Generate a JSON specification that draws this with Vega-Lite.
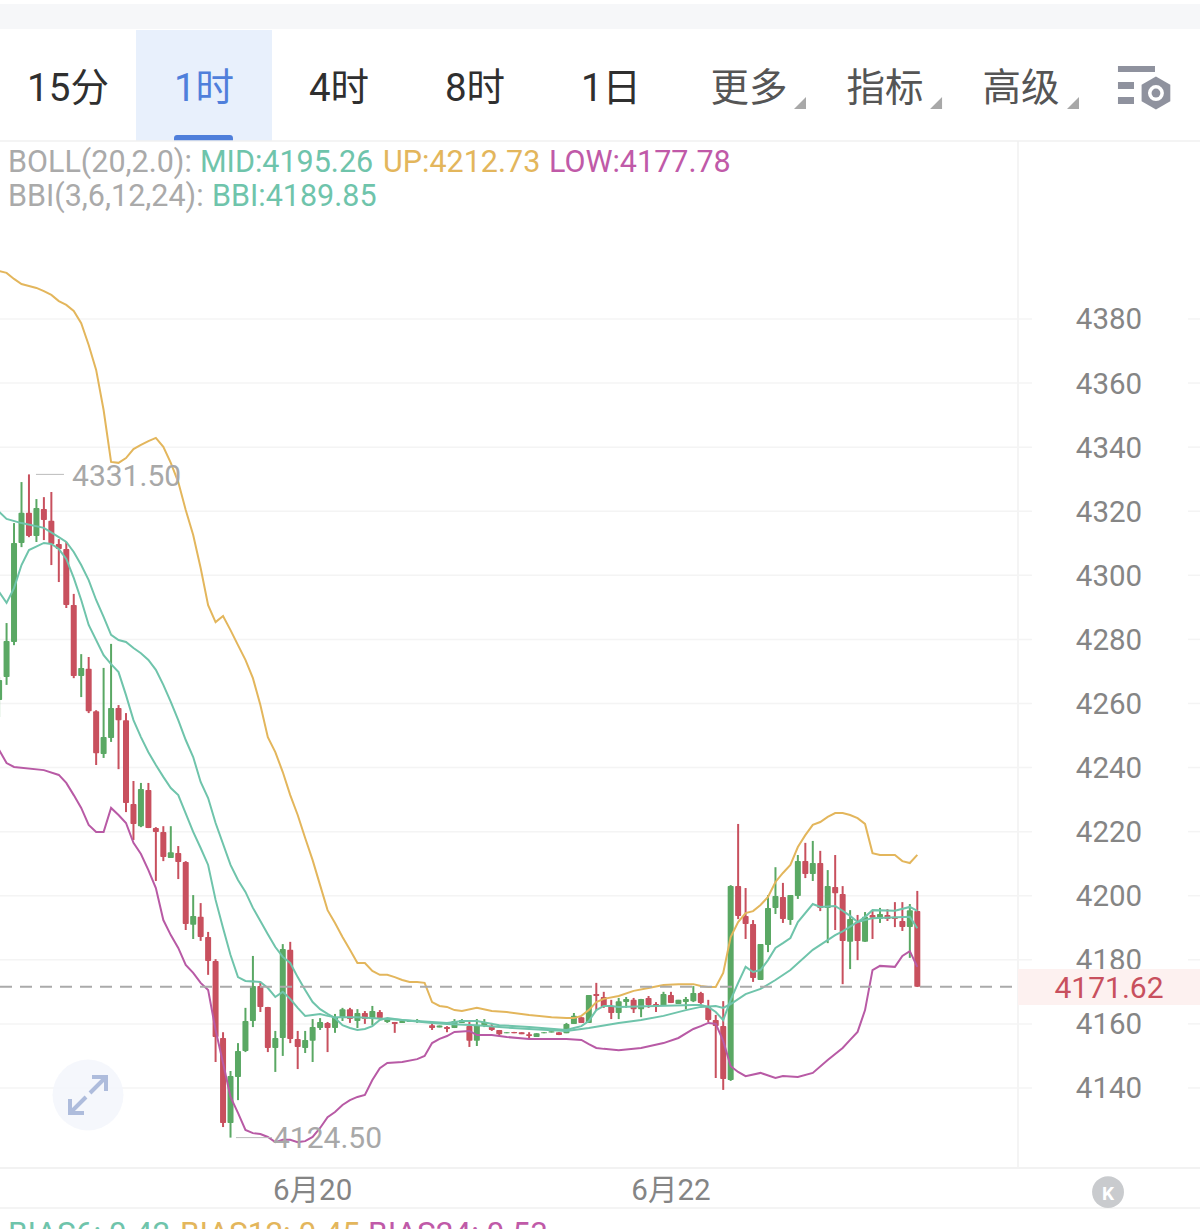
{"$schema":"https://vega.github.io/schema/vega-lite/v6.json","width":1200,"height":1229,"padding":0,"autosize":{"type":"none"},"background":"#ffffff","config":{"view":{"stroke":null},"axis":{"disable":true},"legend":{"disable":true},"text":{"font":"Roboto, Noto Sans CJK SC","dy":1.5,"fontWeight":400}},
"resolve":{"scale":{"color":"independent"}},
"data":{"values":[{}]},
"datasets":{
"levels":[{"v":4140},{"v":4160},{"v":4180},{"v":4200},{"v":4220},{"v":4240},{"v":4260},{"v":4280},{"v":4300},{"v":4320},{"v":4340},{"v":4360},{"v":4380}],
"tabs":[{"t":"15分","i":9.23,"k":"a"},{"t":"1时","i":27.45,"k":"b"},{"t":"4时","i":45.53,"k":"a"},{"t":"8时","i":63.75,"k":"a"},{"t":"1日","i":81.97,"k":"a"},{"t":"更多","i":100.45,"k":"c"},{"t":"指标","i":118.67,"k":"c"},{"t":"高级","i":136.89,"k":"c"}],
"menus":[{"i":107.29},{"i":125.51},{"i":143.86}],
"dates":[{"t":"6月20","i":42},{"t":"6月22","i":90}],
"candles":[
{"i":0,"o":4261.1,"h":4268.3,"l":4255.8,"c":4267.3},{"i":1,"o":4268.3,"h":4285.1,"l":4265.8,"c":4279.5},{"i":2,"o":4279.2,"h":4316.3,"l":4278.2,"c":4310.1},{"i":3,"o":4310.1,"h":4329.1,"l":4308.8,"c":4319.5},{"i":4,"o":4319.5,"h":4331.5,"l":4311.9,"c":4312.3},{"i":5,"o":4312.3,"h":4323.8,"l":4310.4,"c":4321.0},{"i":6,"o":4320.7,"h":4324.4,"l":4311.0,"c":4317.3},{"i":7,"o":4317.0,"h":4326.0,"l":4303.2,"c":4309.8},{"i":8,"o":4309.8,"h":4311.3,"l":4297.9,"c":4308.2},{"i":9,"o":4308.2,"h":4310.4,"l":4289.8,"c":4290.7},
{"i":10,"o":4290.7,"h":4294.2,"l":4267.9,"c":4268.6},{"i":11,"o":4268.6,"h":4275.4,"l":4262.0,"c":4271.1},{"i":12,"o":4270.8,"h":4274.5,"l":4257.0,"c":4257.6},{"i":13,"o":4257.6,"h":4257.9,"l":4240.8,"c":4244.5},{"i":14,"o":4244.2,"h":4271.1,"l":4243.0,"c":4249.5},{"i":15,"o":4249.2,"h":4278.6,"l":4248.0,"c":4258.6},{"i":16,"o":4258.6,"h":4259.5,"l":4239.5,"c":4254.8},{"i":17,"o":4254.8,"h":4257.0,"l":4226.1,"c":4228.9},{"i":18,"o":4228.6,"h":4235.8,"l":4217.4,"c":4222.4},{"i":19,"o":4221.7,"h":4235.2,"l":4221.4,"c":4233.3},
{"i":20,"o":4233.0,"h":4235.2,"l":4221.1,"c":4221.1},{"i":21,"o":4221.1,"h":4221.4,"l":4204.6,"c":4219.9},{"i":22,"o":4219.9,"h":4221.7,"l":4210.8,"c":4212.1},{"i":23,"o":4211.8,"h":4221.7,"l":4211.8,"c":4213.6},{"i":24,"o":4213.3,"h":4215.5,"l":4205.2,"c":4210.5},{"i":25,"o":4210.5,"h":4210.8,"l":4189.3,"c":4191.2},{"i":26,"o":4190.9,"h":4200.2,"l":4186.5,"c":4193.7},{"i":27,"o":4193.4,"h":4197.7,"l":4185.9,"c":4187.1},{"i":28,"o":4187.1,"h":4188.7,"l":4175.3,"c":4179.6},{"i":29,"o":4179.6,"h":4180.2,"l":4148.1,"c":4155.9},
{"i":30,"o":4155.6,"h":4157.4,"l":4127.8,"c":4129.1},{"i":31,"o":4129.1,"h":4145.3,"l":4124.5,"c":4143.7},{"i":32,"o":4143.4,"h":4154.0,"l":4136.2,"c":4151.5},{"i":33,"o":4151.5,"h":4165.0,"l":4151.2,"c":4160.9},{"i":34,"o":4160.9,"h":4181.2,"l":4159.0,"c":4171.8},{"i":35,"o":4171.8,"h":4173.1,"l":4163.7,"c":4165.3},{"i":36,"o":4165.3,"h":4165.3,"l":4151.2,"c":4152.5},{"i":37,"o":4152.5,"h":4157.8,"l":4145.0,"c":4155.6},{"i":38,"o":4155.6,"h":4184.9,"l":4150.0,"c":4183.4},{"i":39,"o":4183.1,"h":4185.6,"l":4154.0,"c":4155.3},
{"i":40,"o":4155.3,"h":4157.8,"l":4145.9,"c":4152.8},{"i":41,"o":4152.5,"h":4157.8,"l":4150.9,"c":4155.0},{"i":42,"o":4154.7,"h":4161.5,"l":4148.1,"c":4159.0},{"i":43,"o":4158.7,"h":4161.8,"l":4158.1,"c":4160.6},{"i":44,"o":4160.3,"h":4160.6,"l":4151.2,"c":4158.7},{"i":45,"o":4158.7,"h":4163.1,"l":4157.2,"c":4162.1},{"i":46,"o":4162.1,"h":4165.0,"l":4160.9,"c":4164.6},{"i":47,"o":4164.6,"h":4165.0,"l":4160.3,"c":4161.5},{"i":48,"o":4160.9,"h":4164.6,"l":4158.7,"c":4163.4},{"i":49,"o":4163.4,"h":4164.0,"l":4160.0,"c":4161.5},
{"i":50,"o":4161.5,"h":4165.6,"l":4159.6,"c":4164.0},{"i":51,"o":4163.7,"h":4164.3,"l":4161.2,"c":4161.8},{"i":52,"o":4160.6,"h":4161.8,"l":4160.3,"c":4161.5},{"i":53,"o":4160.6,"h":4160.6,"l":4157.2,"c":4160.0},{"i":54,"o":4160.3,"h":4161.2,"l":4160.3,"c":4160.9},{"i":55,"o":4160.6,"h":4161.2,"l":4160.6,"c":4161.2},{"i":56,"o":4160.6,"h":4161.5,"l":4160.3,"c":4161.2},{"i":57,"o":4160.9,"h":4160.9,"l":4160.3,"c":4160.3},{"i":58,"o":4159.6,"h":4160.3,"l":4158.1,"c":4158.7},{"i":59,"o":4158.9,"h":4159.5,"l":4158.9,"c":4159.5},
{"i":60,"o":4159.0,"h":4159.3,"l":4157.4,"c":4158.4},{"i":61,"o":4158.7,"h":4161.5,"l":4158.7,"c":4160.9},{"i":62,"o":4160.3,"h":4161.5,"l":4160.3,"c":4161.2},{"i":63,"o":4159.3,"h":4160.9,"l":4152.8,"c":4154.7},{"i":64,"o":4154.7,"h":4161.5,"l":4153.1,"c":4159.6},{"i":65,"o":4159.3,"h":4161.5,"l":4159.0,"c":4160.6},{"i":66,"o":4159.0,"h":4160.3,"l":4157.8,"c":4158.1},{"i":67,"o":4158.1,"h":4158.1,"l":4156.2,"c":4156.8},{"i":68,"o":4157.1,"h":4157.4,"l":4157.1,"c":4157.4},{"i":69,"o":4157.5,"h":4157.5,"l":4157.1,"c":4157.1},
{"i":70,"o":4157.4,"h":4157.4,"l":4156.8,"c":4156.8},{"i":71,"o":4156.8,"h":4157.4,"l":4155.3,"c":4156.2},{"i":72,"o":4155.9,"h":4157.1,"l":4155.9,"c":4157.1},{"i":73,"o":4157.1,"h":4157.4,"l":4157.1,"c":4157.4},{"i":74,"o":4157.3,"h":4157.7,"l":4157.3,"c":4157.7},{"i":75,"o":4157.4,"h":4157.4,"l":4156.5,"c":4156.5},{"i":76,"o":4157.1,"h":4160.3,"l":4157.1,"c":4160.0},{"i":77,"o":4160.0,"h":4163.4,"l":4160.0,"c":4162.5},{"i":78,"o":4162.1,"h":4162.1,"l":4160.3,"c":4160.3},{"i":79,"o":4160.3,"h":4169.0,"l":4160.3,"c":4169.0},
{"i":80,"o":4169.3,"h":4172.8,"l":4164.3,"c":4168.7},{"i":81,"o":4168.4,"h":4170.0,"l":4165.0,"c":4165.3},{"i":82,"o":4165.6,"h":4167.5,"l":4161.5,"c":4163.4},{"i":83,"o":4163.4,"h":4168.1,"l":4161.5,"c":4167.1},{"i":84,"o":4166.8,"h":4168.4,"l":4165.0,"c":4167.8},{"i":85,"o":4167.5,"h":4168.1,"l":4163.4,"c":4164.6},{"i":86,"o":4164.6,"h":4167.8,"l":4162.1,"c":4167.8},{"i":87,"o":4168.1,"h":4168.7,"l":4165.0,"c":4165.9},{"i":88,"o":4166.2,"h":4166.8,"l":4163.7,"c":4165.3},{"i":89,"o":4165.6,"h":4170.0,"l":4165.6,"c":4169.3},
{"i":90,"o":4169.0,"h":4170.0,"l":4166.5,"c":4166.5},{"i":91,"o":4166.2,"h":4167.5,"l":4166.2,"c":4167.5},{"i":92,"o":4166.8,"h":4168.4,"l":4164.6,"c":4167.8},{"i":93,"o":4167.1,"h":4171.8,"l":4166.8,"c":4169.6},{"i":94,"o":4169.6,"h":4170.0,"l":4165.6,"c":4166.5},{"i":95,"o":4165.3,"h":4167.5,"l":4160.6,"c":4161.2},{"i":96,"o":4161.2,"h":4162.8,"l":4143.1,"c":4159.3},{"i":97,"o":4159.3,"h":4167.1,"l":4139.4,"c":4142.8},{"i":98,"o":4142.5,"h":4203.3,"l":4142.2,"c":4203.0},{"i":99,"o":4203.0,"h":4222.4,"l":4192.7,"c":4193.7},
{"i":100,"o":4193.7,"h":4202.4,"l":4186.5,"c":4191.2},{"i":101,"o":4191.2,"h":4192.4,"l":4173.1,"c":4174.3},{"i":102,"o":4173.7,"h":4184.9,"l":4173.7,"c":4184.9},{"i":103,"o":4184.6,"h":4200.2,"l":4182.4,"c":4196.2},{"i":104,"o":4196.2,"h":4208.9,"l":4194.3,"c":4199.9},{"i":105,"o":4199.6,"h":4204.0,"l":4191.5,"c":4192.7},{"i":106,"o":4192.4,"h":4200.2,"l":4190.9,"c":4200.2},{"i":107,"o":4199.9,"h":4212.7,"l":4199.0,"c":4210.8},{"i":108,"o":4210.8,"h":4216.5,"l":4205.5,"c":4206.8},{"i":109,"o":4206.8,"h":4217.1,"l":4204.6,"c":4210.2},
{"i":110,"o":4210.2,"h":4214.0,"l":4195.2,"c":4196.2},{"i":111,"o":4196.2,"h":4208.0,"l":4185.2,"c":4203.0},{"i":112,"o":4202.7,"h":4212.7,"l":4189.3,"c":4200.8},{"i":113,"o":4200.5,"h":4203.0,"l":4172.4,"c":4185.9},{"i":114,"o":4185.6,"h":4195.5,"l":4177.1,"c":4192.7},{"i":115,"o":4191.8,"h":4194.0,"l":4179.9,"c":4185.9},{"i":116,"o":4185.6,"h":4194.9,"l":4185.6,"c":4193.4},{"i":117,"o":4194.0,"h":4195.5,"l":4186.5,"c":4193.1},{"i":118,"o":4192.7,"h":4196.2,"l":4191.5,"c":4194.3},{"i":119,"o":4194.0,"h":4195.8,"l":4192.1,"c":4192.7},
{"i":120,"o":4193.4,"h":4198.0,"l":4190.2,"c":4192.7},{"i":121,"o":4192.1,"h":4198.0,"l":4189.0,"c":4190.2},{"i":122,"o":4190.2,"h":4197.4,"l":4180.6,"c":4195.5},{"i":123,"o":4195.2,"h":4201.5,"l":4171.5,"c":4171.62}
],
"bands":[
{"s":"UP","i":0,"v":4395.0},{"s":"UP","i":1,"v":4394.4},{"s":"UP","i":2,"v":4392.5},{"s":"UP","i":3,"v":4390.9},{"s":"UP","i":4,"v":4390.3},{"s":"UP","i":5,"v":4389.7},{"s":"UP","i":6,"v":4388.7},{"s":"UP","i":7,"v":4387.5},{"s":"UP","i":8,"v":4385.6},{"s":"UP","i":9,"v":4384.4},{"s":"UP","i":10,"v":4382.5},{"s":"UP","i":11,"v":4378.7},{"s":"UP","i":12,"v":4371.9},{"s":"UP","i":13,"v":4364.1},{"s":"UP","i":14,"v":4351.6},{"s":"UP","i":15,"v":4335.4},{"s":"UP","i":16,"v":4335.1},{"s":"UP","i":17,"v":4336.6},{"s":"UP","i":18,"v":4339.4},{"s":"UP","i":19,"v":4340.7},{"s":"UP","i":20,"v":4341.9},{"s":"UP","i":21,"v":4342.9},{"s":"UP","i":22,"v":4340.1},{"s":"UP","i":23,"v":4335.1},{"s":"UP","i":24,"v":4329.1},{"s":"UP","i":25,"v":4320.4},{"s":"UP","i":26,"v":4312.6},{"s":"UP","i":27,"v":4302.3},{"s":"UP","i":28,"v":4290.7},{"s":"UP","i":29,"v":4285.4},{"s":"UP","i":30,"v":4287.3},{"s":"UP","i":31,"v":4282.9},{"s":"UP","i":32,"v":4278.2},{"s":"UP","i":33,"v":4273.6},{"s":"UP","i":34,"v":4267.9},{"s":"UP","i":35,"v":4259.5},{"s":"UP","i":36,"v":4249.5},{"s":"UP","i":37,"v":4244.8},{"s":"UP","i":38,"v":4238.6},{"s":"UP","i":39,"v":4231.4},{"s":"UP","i":40,"v":4225.2},{"s":"UP","i":41,"v":4218.0},{"s":"UP","i":42,"v":4211.1},{"s":"UP","i":43,"v":4203.3},{"s":"UP","i":44,"v":4195.5},{"s":"UP","i":45,"v":4191.5},{"s":"UP","i":46,"v":4187.1},{"s":"UP","i":47,"v":4183.1},{"s":"UP","i":48,"v":4179.0},{"s":"UP","i":49,"v":4179.0},{"s":"UP","i":50,"v":4176.5},{"s":"UP","i":51,"v":4175.3},{"s":"UP","i":52,"v":4175.3},{"s":"UP","i":53,"v":4174.6},{"s":"UP","i":54,"v":4173.7},{"s":"UP","i":55,"v":4173.1},{"s":"UP","i":56,"v":4173.1},{"s":"UP","i":57,"v":4172.8},{"s":"UP","i":58,"v":4166.8},{"s":"UP","i":59,"v":4165.6},{"s":"UP","i":60,"v":4165.3},{"s":"UP","i":61,"v":4164.3},{"s":"UP","i":62,"v":4164.0},{"s":"UP","i":64,"v":4165.0},{"s":"UP","i":66,"v":4164.0},{"s":"UP","i":68,"v":4163.7},{"s":"UP","i":71,"v":4162.8},{"s":"UP","i":74,"v":4162.1},{"s":"UP","i":76,"v":4161.8},{"s":"UP","i":77,"v":4161.8},{"s":"UP","i":78,"v":4162.5},{"s":"UP","i":79,"v":4164.3},{"s":"UP","i":80,"v":4166.8},{"s":"UP","i":81,"v":4167.8},{"s":"UP","i":83,"v":4168.7},{"s":"UP","i":85,"v":4170.3},{"s":"UP","i":87,"v":4171.2},{"s":"UP","i":89,"v":4172.1},{"s":"UP","i":91,"v":4172.4},{"s":"UP","i":93,"v":4172.4},{"s":"UP","i":94,"v":4171.8},{"s":"UP","i":95,"v":4171.5},{"s":"UP","i":96,"v":4171.5},{"s":"UP","i":97,"v":4175.9},{"s":"UP","i":98,"v":4187.1},{"s":"UP","i":99,"v":4191.8},{"s":"UP","i":100,"v":4194.6},{"s":"UP","i":101,"v":4195.2},{"s":"UP","i":102,"v":4197.1},{"s":"UP","i":103,"v":4199.6},{"s":"UP","i":104,"v":4204.3},{"s":"UP","i":105,"v":4207.1},{"s":"UP","i":106,"v":4209.6},{"s":"UP","i":107,"v":4215.2},{"s":"UP","i":108,"v":4218.9},{"s":"UP","i":109,"v":4222.1},{"s":"UP","i":110,"v":4223.0},{"s":"UP","i":111,"v":4224.6},{"s":"UP","i":112,"v":4225.8},{"s":"UP","i":113,"v":4225.8},{"s":"UP","i":114,"v":4225.2},{"s":"UP","i":115,"v":4224.2},{"s":"UP","i":116,"v":4222.4},{"s":"UP","i":117,"v":4213.3},{"s":"UP","i":118,"v":4212.7},{"s":"UP","i":119,"v":4212.7},{"s":"UP","i":120,"v":4212.7},{"s":"UP","i":121,"v":4210.8},{"s":"UP","i":122,"v":4210.2},{"s":"UP","i":123,"v":4212.73},
{"s":"LOW","i":0,"v":4245.5},{"s":"LOW","i":1,"v":4241.4},{"s":"LOW","i":2,"v":4240.2},{"s":"LOW","i":6,"v":4239.2},{"s":"LOW","i":8,"v":4237.7},{"s":"LOW","i":9,"v":4235.2},{"s":"LOW","i":10,"v":4231.4},{"s":"LOW","i":11,"v":4227.4},{"s":"LOW","i":12,"v":4222.1},{"s":"LOW","i":13,"v":4219.9},{"s":"LOW","i":14,"v":4219.9},{"s":"LOW","i":15,"v":4227.4},{"s":"LOW","i":16,"v":4225.2},{"s":"LOW","i":17,"v":4222.7},{"s":"LOW","i":18,"v":4216.5},{"s":"LOW","i":19,"v":4213.0},{"s":"LOW","i":20,"v":4208.0},{"s":"LOW","i":21,"v":4202.4},{"s":"LOW","i":22,"v":4192.4},{"s":"LOW","i":23,"v":4187.7},{"s":"LOW","i":24,"v":4183.7},{"s":"LOW","i":25,"v":4178.4},{"s":"LOW","i":26,"v":4175.9},{"s":"LOW","i":27,"v":4172.8},{"s":"LOW","i":28,"v":4170.6},{"s":"LOW","i":29,"v":4158.1},{"s":"LOW","i":30,"v":4147.8},{"s":"LOW","i":31,"v":4137.2},{"s":"LOW","i":32,"v":4132.2},{"s":"LOW","i":33,"v":4126.9},{"s":"LOW","i":34,"v":4125.9},{"s":"LOW","i":35,"v":4125.6},{"s":"LOW","i":36,"v":4124.7},{"s":"LOW","i":37,"v":4123.1},{"s":"LOW","i":38,"v":4123.8},{"s":"LOW","i":39,"v":4123.8},{"s":"LOW","i":40,"v":4123.1},{"s":"LOW","i":41,"v":4123.4},{"s":"LOW","i":42,"v":4124.7},{"s":"LOW","i":43,"v":4127.5},{"s":"LOW","i":44,"v":4130.9},{"s":"LOW","i":45,"v":4132.5},{"s":"LOW","i":46,"v":4134.7},{"s":"LOW","i":47,"v":4136.2},{"s":"LOW","i":48,"v":4137.2},{"s":"LOW","i":49,"v":4137.8},{"s":"LOW","i":50,"v":4142.5},{"s":"LOW","i":51,"v":4146.2},{"s":"LOW","i":52,"v":4147.8},{"s":"LOW","i":54,"v":4148.1},{"s":"LOW","i":56,"v":4149.0},{"s":"LOW","i":57,"v":4150.0},{"s":"LOW","i":58,"v":4154.0},{"s":"LOW","i":59,"v":4155.3},{"s":"LOW","i":60,"v":4156.2},{"s":"LOW","i":61,"v":4157.5},{"s":"LOW","i":63,"v":4157.8},{"s":"LOW","i":64,"v":4156.5},{"s":"LOW","i":66,"v":4156.5},{"s":"LOW","i":68,"v":4155.9},{"s":"LOW","i":71,"v":4155.3},{"s":"LOW","i":74,"v":4155.3},{"s":"LOW","i":76,"v":4155.3},{"s":"LOW","i":78,"v":4155.0},{"s":"LOW","i":79,"v":4153.7},{"s":"LOW","i":80,"v":4152.5},{"s":"LOW","i":81,"v":4152.2},{"s":"LOW","i":83,"v":4151.8},{"s":"LOW","i":86,"v":4152.5},{"s":"LOW","i":89,"v":4154.0},{"s":"LOW","i":91,"v":4155.6},{"s":"LOW","i":93,"v":4158.4},{"s":"LOW","i":94,"v":4159.3},{"s":"LOW","i":95,"v":4160.3},{"s":"LOW","i":96,"v":4160.0},{"s":"LOW","i":97,"v":4154.7},{"s":"LOW","i":98,"v":4146.8},{"s":"LOW","i":99,"v":4145.0},{"s":"LOW","i":100,"v":4143.7},{"s":"LOW","i":102,"v":4144.7},{"s":"LOW","i":104,"v":4143.1},{"s":"LOW","i":105,"v":4143.7},{"s":"LOW","i":107,"v":4143.4},{"s":"LOW","i":109,"v":4144.7},{"s":"LOW","i":111,"v":4148.7},{"s":"LOW","i":113,"v":4152.5},{"s":"LOW","i":114,"v":4155.0},{"s":"LOW","i":115,"v":4157.5},{"s":"LOW","i":116,"v":4164.3},{"s":"LOW","i":117,"v":4176.8},{"s":"LOW","i":118,"v":4178.1},{"s":"LOW","i":120,"v":4177.8},{"s":"LOW","i":121,"v":4181.2},{"s":"LOW","i":122,"v":4182.7},{"s":"LOW","i":123,"v":4177.78},
{"s":"MID","i":0,"v":4294.8},{"s":"MID","i":1,"v":4291.4},{"s":"MID","i":2,"v":4296.0},{"s":"MID","i":3,"v":4303.2},{"s":"MID","i":4,"v":4307.9},{"s":"MID","i":6,"v":4310.1},{"s":"MID","i":7,"v":4309.8},{"s":"MID","i":8,"v":4308.2},{"s":"MID","i":9,"v":4305.1},{"s":"MID","i":10,"v":4299.2},{"s":"MID","i":11,"v":4292.3},{"s":"MID","i":12,"v":4284.5},{"s":"MID","i":14,"v":4275.1},{"s":"MID","i":15,"v":4272.3},{"s":"MID","i":16,"v":4269.8},{"s":"MID","i":17,"v":4262.6},{"s":"MID","i":18,"v":4254.8},{"s":"MID","i":19,"v":4249.5},{"s":"MID","i":20,"v":4244.8},{"s":"MID","i":21,"v":4240.8},{"s":"MID","i":22,"v":4237.1},{"s":"MID","i":23,"v":4233.6},{"s":"MID","i":24,"v":4231.4},{"s":"MID","i":26,"v":4219.9},{"s":"MID","i":27,"v":4214.9},{"s":"MID","i":28,"v":4209.6},{"s":"MID","i":29,"v":4198.7},{"s":"MID","i":30,"v":4189.9},{"s":"MID","i":31,"v":4181.5},{"s":"MID","i":32,"v":4174.6},{"s":"MID","i":33,"v":4173.4},{"s":"MID","i":35,"v":4173.1},{"s":"MID","i":36,"v":4171.2},{"s":"MID","i":37,"v":4168.4},{"s":"MID","i":38,"v":4170.0},{"s":"MID","i":39,"v":4167.8},{"s":"MID","i":40,"v":4165.0},{"s":"MID","i":41,"v":4162.5},{"s":"MID","i":42,"v":4162.8},{"s":"MID","i":43,"v":4163.1},{"s":"MID","i":44,"v":4162.5},{"s":"MID","i":45,"v":4162.1},{"s":"MID","i":48,"v":4162.1},{"s":"MID","i":52,"v":4161.5},{"s":"MID","i":54,"v":4161.2},{"s":"MID","i":58,"v":4160.6},{"s":"MID","i":60,"v":4160.3},{"s":"MID","i":62,"v":4160.9},{"s":"MID","i":64,"v":4160.9},{"s":"MID","i":67,"v":4159.6},{"s":"MID","i":71,"v":4159.0},{"s":"MID","i":76,"v":4158.1},{"s":"MID","i":77,"v":4158.7},{"s":"MID","i":78,"v":4159.3},{"s":"MID","i":79,"v":4160.9},{"s":"MID","i":80,"v":4164.3},{"s":"MID","i":81,"v":4165.6},{"s":"MID","i":82,"v":4165.6},{"s":"MID","i":83,"v":4165.3},{"s":"MID","i":93,"v":4165.9},{"s":"MID","i":94,"v":4165.9},{"s":"MID","i":95,"v":4165.3},{"s":"MID","i":96,"v":4163.7},{"s":"MID","i":97,"v":4161.2},{"s":"MID","i":98,"v":4167.5},{"s":"MID","i":99,"v":4172.8},{"s":"MID","i":100,"v":4177.8},{"s":"MID","i":101,"v":4176.2},{"s":"MID","i":102,"v":4176.8},{"s":"MID","i":103,"v":4179.9},{"s":"MID","i":104,"v":4183.7},{"s":"MID","i":105,"v":4185.2},{"s":"MID","i":106,"v":4186.8},{"s":"MID","i":107,"v":4191.8},{"s":"MID","i":109,"v":4197.4},{"s":"MID","i":110,"v":4196.5},{"s":"MID","i":112,"v":4196.8},{"s":"MID","i":113,"v":4195.3},{"s":"MID","i":114,"v":4193.7},{"s":"MID","i":115,"v":4191.8},{"s":"MID","i":116,"v":4193.4},{"s":"MID","i":117,"v":4195.5},{"s":"MID","i":120,"v":4195.3},{"s":"MID","i":122,"v":4196.5},{"s":"MID","i":123,"v":4195.26},
{"s":"BBI","i":0,"v":4319.8},{"s":"BBI","i":1,"v":4317.6},{"s":"BBI","i":3,"v":4316.3},{"s":"BBI","i":6,"v":4314.8},{"s":"BBI","i":8,"v":4311.9},{"s":"BBI","i":9,"v":4310.4},{"s":"BBI","i":10,"v":4307.3},{"s":"BBI","i":11,"v":4303.2},{"s":"BBI","i":12,"v":4298.5},{"s":"BBI","i":13,"v":4292.3},{"s":"BBI","i":14,"v":4287.0},{"s":"BBI","i":15,"v":4281.4},{"s":"BBI","i":16,"v":4279.8},{"s":"BBI","i":17,"v":4279.2},{"s":"BBI","i":18,"v":4277.3},{"s":"BBI","i":19,"v":4275.7},{"s":"BBI","i":20,"v":4273.6},{"s":"BBI","i":21,"v":4270.5},{"s":"BBI","i":22,"v":4265.8},{"s":"BBI","i":23,"v":4260.5},{"s":"BBI","i":24,"v":4254.8},{"s":"BBI","i":25,"v":4248.6},{"s":"BBI","i":26,"v":4243.3},{"s":"BBI","i":27,"v":4235.5},{"s":"BBI","i":28,"v":4230.5},{"s":"BBI","i":29,"v":4222.7},{"s":"BBI","i":31,"v":4209.6},{"s":"BBI","i":32,"v":4204.9},{"s":"BBI","i":33,"v":4201.2},{"s":"BBI","i":34,"v":4196.2},{"s":"BBI","i":35,"v":4192.1},{"s":"BBI","i":36,"v":4188.0},{"s":"BBI","i":37,"v":4184.0},{"s":"BBI","i":38,"v":4180.9},{"s":"BBI","i":39,"v":4179.0},{"s":"BBI","i":40,"v":4174.6},{"s":"BBI","i":41,"v":4170.6},{"s":"BBI","i":42,"v":4166.8},{"s":"BBI","i":43,"v":4164.6},{"s":"BBI","i":44,"v":4163.1},{"s":"BBI","i":45,"v":4161.8},{"s":"BBI","i":46,"v":4159.6},{"s":"BBI","i":47,"v":4158.7},{"s":"BBI","i":48,"v":4158.1},{"s":"BBI","i":49,"v":4158.4},{"s":"BBI","i":50,"v":4159.3},{"s":"BBI","i":51,"v":4161.2},{"s":"BBI","i":52,"v":4161.8},{"s":"BBI","i":54,"v":4161.2},{"s":"BBI","i":58,"v":4160.3},{"s":"BBI","i":60,"v":4160.0},{"s":"BBI","i":64,"v":4159.6},{"s":"BBI","i":67,"v":4159.0},{"s":"BBI","i":71,"v":4158.4},{"s":"BBI","i":76,"v":4157.8},{"s":"BBI","i":79,"v":4158.7},{"s":"BBI","i":83,"v":4160.3},{"s":"BBI","i":86,"v":4161.2},{"s":"BBI","i":89,"v":4162.5},{"s":"BBI","i":92,"v":4164.3},{"s":"BBI","i":94,"v":4165.3},{"s":"BBI","i":96,"v":4165.6},{"s":"BBI","i":97,"v":4165.0},{"s":"BBI","i":98,"v":4166.2},{"s":"BBI","i":100,"v":4169.3},{"s":"BBI","i":102,"v":4170.9},{"s":"BBI","i":104,"v":4173.7},{"s":"BBI","i":106,"v":4176.8},{"s":"BBI","i":109,"v":4183.1},{"s":"BBI","i":112,"v":4187.7},{"s":"BBI","i":113,"v":4188.9},{"s":"BBI","i":115,"v":4191.8},{"s":"BBI","i":117,"v":4193.0},{"s":"BBI","i":122,"v":4193.4},{"s":"BBI","i":123,"v":4189.85}
]},
"layer":[
{"mark":{"type":"rect","color":"#f6f7f9"},"encoding":{"x":{"datum":0.1206,"type":"quantitative","scale":{"domain":[0.1206,160.87],"nice":false,"zero":false,"padding":0}},"x2":{"datum":160.87},"y":{"datum":4478.3,"type":"quantitative","scale":{"domain":[4095.98,4479.56],"nice":false,"zero":false,"padding":0}},"y2":{"datum":4470.5}}},
{"mark":{"type":"rect","color":"#e8f0fc"},"encoding":{"x":{"datum":18.34},"x2":{"datum":36.56},"y":{"datum":4470.2},"y2":{"datum":4435.55}}},
{"mark":{"type":"rect","color":"#4f7fdb","cornerRadiusTopLeft":5,"cornerRadiusTopRight":5},"encoding":{"x":{"datum":23.43},"x2":{"datum":31.33},"y":{"datum":4437.4},"y2":{"datum":4435.55}}},
{"data":{"name":"tabs"},"mark":{"type":"text","fontSize":38.5,"align":"center","baseline":"middle"},"encoding":{"x":{"field":"i","type":"quantitative"},"y":{"datum":4452.4},"text":{"field":"t"},"color":{"field":"k","type":"nominal","scale":{"domain":["a","b","c"],"range":["#2f2f2f","#4f7fdb","#555555"]}}}},
{"data":{"name":"menus"},"mark":{"type":"point","shape":"M1,-1 L1,1 L-1,1 Z","filled":true,"size":144,"color":"#a8a8a8","opacity":1},"encoding":{"x":{"field":"i","type":"quantitative"},"y":{"datum":4447.4}}},
{"mark":{"type":"rect","color":"#8f929e"},"encoding":{"x":{"datum":149.88},"x2":{"datum":154.84},"y":{"datum":4458.96},"y2":{"datum":4457.09}}},
{"mark":{"type":"rect","color":"#8f929e"},"encoding":{"x":{"datum":149.88},"x2":{"datum":152.03},"y":{"datum":4453.97},"y2":{"datum":4451.78}}},
{"mark":{"type":"rect","color":"#8f929e"},"encoding":{"x":{"datum":149.88},"x2":{"datum":152.03},"y":{"datum":4449.29},"y2":{"datum":4447.1}}},
{"mark":{"type":"point","shape":"M0,-1 L0.87,-0.5 L0.87,0.5 L0,1 L-0.87,0.5 L-0.87,-0.5 Z","filled":true,"size":1089,"color":"#8f929e","opacity":1},"encoding":{"x":{"datum":154.97},"y":{"datum":4450.53}}},
{"mark":{"type":"point","shape":"circle","filled":true,"size":254,"color":"#ffffff","opacity":1},"encoding":{"x":{"datum":154.97},"y":{"datum":4450.53}}},
{"mark":{"type":"point","shape":"circle","filled":true,"size":78,"color":"#8f929e","opacity":1},"encoding":{"x":{"datum":154.97},"y":{"datum":4450.53}}},
{"mark":{"type":"rule","color":"#f0f0f0","strokeWidth":1.5},"encoding":{"x":{"datum":0.1206},"x2":{"datum":160.87},"y":{"datum":4435.55}}},
{"mark":{"type":"rule","color":"#f0f0f0","strokeWidth":1.5},"encoding":{"x":{"datum":136.49},"y":{"datum":4435.55},"y2":{"datum":4115.02}}},
{"mark":{"type":"rule","color":"#f2f2f2","strokeWidth":2},"encoding":{"x":{"datum":0.1206},"x2":{"datum":160.87},"y":{"datum":4115.02}}},
{"mark":{"type":"rule","color":"#f4f4f4","strokeWidth":2},"encoding":{"x":{"datum":0.1206},"x2":{"datum":160.87},"y":{"datum":4102.5}}},
{"data":{"name":"levels"},"mark":{"type":"rule","color":"#f4f4f4","strokeWidth":1.5},"encoding":{"x":{"datum":0.1206},"x2":{"datum":138.36},"y":{"field":"v","type":"quantitative"}}},
{"data":{"name":"levels"},"mark":{"type":"rule","color":"#f4f4f4","strokeWidth":1.5},"encoding":{"x":{"datum":159.26},"x2":{"datum":160.87},"y":{"field":"v","type":"quantitative"}}},
{"data":{"name":"levels"},"mark":{"type":"text","fontSize":29.5,"color":"#858585","align":"center","baseline":"middle"},"encoding":{"x":{"datum":148.68},"y":{"field":"v","type":"quantitative"},"text":{"field":"v","type":"quantitative","format":"d"}}},
{"mark":{"type":"rect","color":"#fdf1f0"},"encoding":{"x":{"datum":136.49},"x2":{"datum":160.87},"y":{"datum":4177.13},"y2":{"datum":4165.88}}},
{"mark":{"type":"text","text":"4171.62","fontSize":30,"color":"#c8505e","align":"center","baseline":"middle"},"encoding":{"x":{"datum":148.68},"y":{"datum":4171.2}}},
{"data":{"name":"candles"},"mark":{"type":"rule","strokeWidth":2},"encoding":{"x":{"field":"i","type":"quantitative"},"y":{"field":"l","type":"quantitative"},"y2":{"field":"h"},"color":{"condition":{"test":"datum.c>=datum.o","value":"#5aa864"},"value":"#c8505e"}}},
{"data":{"name":"candles"},"mark":{"type":"bar","width":6,"cornerRadius":1},"encoding":{"x":{"field":"i","type":"quantitative"},"y":{"field":"o","type":"quantitative"},"y2":{"field":"c"},"color":{"condition":{"test":"datum.c>=datum.o","value":"#5aa864"},"value":"#c8505e"}}},
{"data":{"name":"bands"},"mark":{"type":"line","strokeWidth":2,"interpolate":"linear"},"encoding":{"x":{"field":"i","type":"quantitative"},"y":{"field":"v","type":"quantitative"},"color":{"field":"s","type":"nominal","scale":{"domain":["UP","LOW","MID","BBI"],"range":["#e3b65c","#b85aa5","#6fc4ab","#6fc4ab"]}},"order":{"field":"i","type":"quantitative"}}},
{"mark":{"type":"rule","color":"#aaaaaa","strokeWidth":2,"strokeDash":[12,8]},"encoding":{"x":{"datum":0.1206},"x2":{"datum":136.09},"y":{"datum":4171.62}}},
{"mark":{"type":"rule","color":"#bbbbbb","strokeWidth":1},"encoding":{"x":{"datum":4.94},"x2":{"datum":8.69},"y":{"datum":4331.5}}},
{"mark":{"type":"text","text":"4331.50","fontSize":30,"color":"#a8a8a8","align":"left","baseline":"middle"},"encoding":{"x":{"datum":9.77},"y":{"datum":4331.3}}},
{"mark":{"type":"rule","color":"#bbbbbb","strokeWidth":1},"encoding":{"x":{"datum":31.73},"x2":{"datum":36.56},"y":{"datum":4124.5}}},
{"mark":{"type":"text","text":"4124.50","fontSize":30,"color":"#a8a8a8","align":"left","baseline":"middle"},"encoding":{"x":{"datum":36.69},"y":{"datum":4124.4}}},
{"mark":{"type":"text","text":"BOLL(20,2.0):","fontSize":30.5,"color":"#aaaaaa","align":"left","baseline":"middle"},"encoding":{"x":{"datum":1.19},"y":{"datum":4429.3}}},
{"mark":{"type":"text","text":"MID:4195.26","fontSize":30.5,"color":"#6fc4ab","align":"left","baseline":"middle"},"encoding":{"x":{"datum":26.91},"y":{"datum":4429.3}}},
{"mark":{"type":"text","text":"UP:4212.73","fontSize":30.5,"color":"#e3b65c","align":"left","baseline":"middle"},"encoding":{"x":{"datum":51.43},"y":{"datum":4429.3}}},
{"mark":{"type":"text","text":"LOW:4177.78","fontSize":30.5,"color":"#c05aa8","align":"left","baseline":"middle"},"encoding":{"x":{"datum":73.66},"y":{"datum":4429.3}}},
{"mark":{"type":"text","text":"BBI(3,6,12,24):","fontSize":30.5,"color":"#aaaaaa","align":"left","baseline":"middle"},"encoding":{"x":{"datum":1.19},"y":{"datum":4418.4}}},
{"mark":{"type":"text","text":"BBI:4189.85","fontSize":30.5,"color":"#6fc4ab","align":"left","baseline":"middle"},"encoding":{"x":{"datum":28.52},"y":{"datum":4418.4}}},
{"data":{"name":"dates"},"mark":{"type":"text","fontSize":29.5,"color":"#858585","align":"center","baseline":"middle"},"encoding":{"x":{"field":"i","type":"quantitative"},"y":{"datum":4108.4},"text":{"field":"t"}}},
{"mark":{"type":"text","text":"BIAS6: 0.42","fontSize":31.5,"color":"#6fc4ab","align":"left","baseline":"middle"},"encoding":{"x":{"datum":1.19},"y":{"datum":4094.7}}},
{"mark":{"type":"text","text":"BIAS12: 0.45","fontSize":31.5,"color":"#e3b65c","align":"left","baseline":"middle"},"encoding":{"x":{"datum":24.23},"y":{"datum":4094.7}}},
{"mark":{"type":"text","text":"BIAS24: 0.53","fontSize":31.5,"color":"#c05aa8","align":"left","baseline":"middle"},"encoding":{"x":{"datum":49.42},"y":{"datum":4094.7}}},
{"mark":{"type":"point","shape":"circle","filled":true,"size":5027,"color":"#f3f6fc","opacity":0.85},"encoding":{"x":{"datum":11.91},"y":{"datum":4137.8}}},
{"mark":{"type":"point","shape":"M0.1,-0.1 L0.9,-0.9 M0.2,-0.9 L0.9,-0.9 L0.9,-0.2 M-0.1,0.1 L-0.9,0.9 M-0.9,0.2 L-0.9,0.9 L-0.2,0.9","filled":false,"size":1600,"stroke":"#aebcdc","strokeWidth":4,"opacity":1},"encoding":{"x":{"datum":11.91},"y":{"datum":4137.8}}},
{"mark":{"type":"point","shape":"circle","filled":true,"size":1018,"color":"#c9cbce","opacity":1},"encoding":{"x":{"datum":148.55},"y":{"datum":4107.5}}},
{"mark":{"type":"text","text":"K","fontSize":19,"fontWeight":"bold","color":"#ffffff","align":"center","baseline":"middle"},"encoding":{"x":{"datum":148.55},"y":{"datum":4107.5}}}
]}
